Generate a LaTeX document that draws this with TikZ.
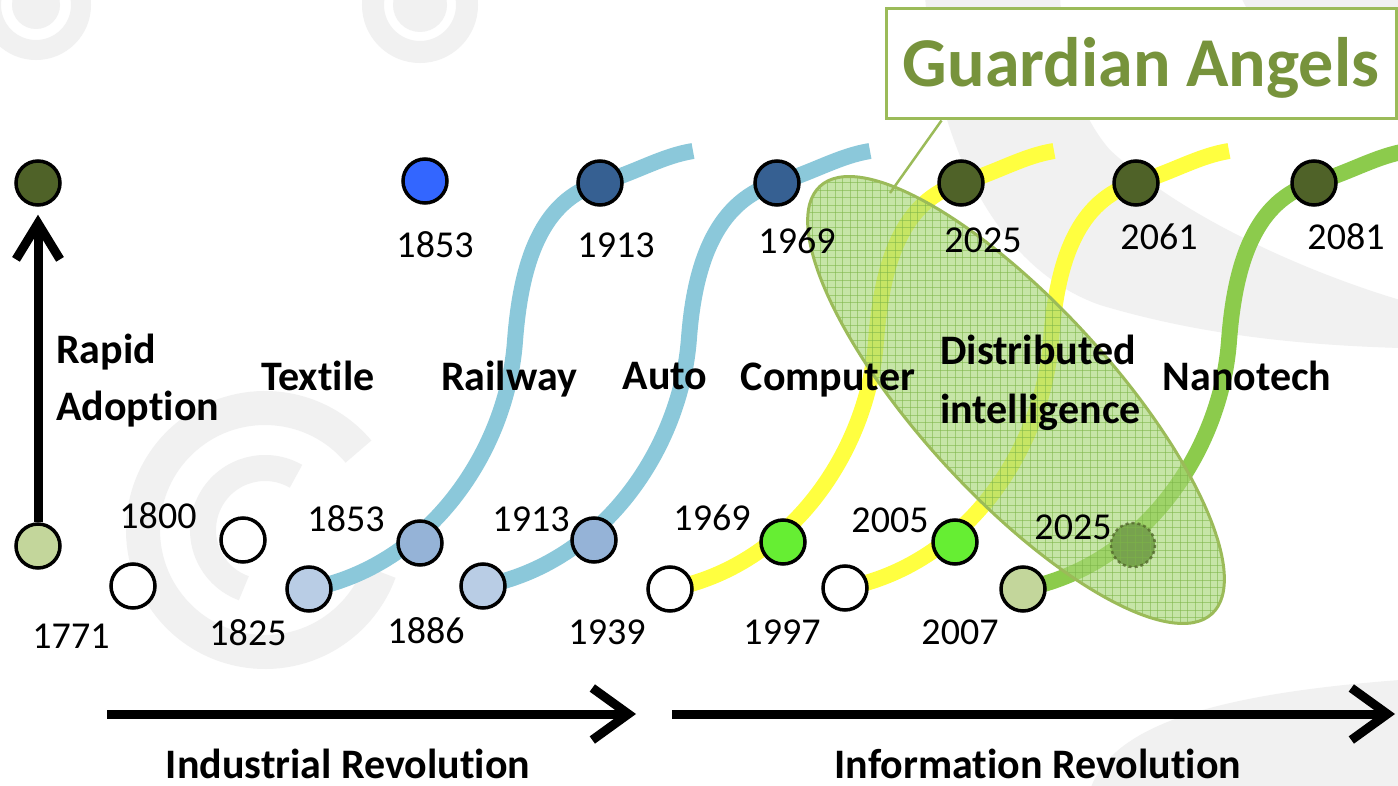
\documentclass[tikz,border=0pt]{standalone}
\usepackage{fontspec}
\setmainfont{Carlito}[RawFeature={-liga;-clig;-dlig;-calt}]
\usetikzlibrary{arrows.meta,calc}
\definecolor{olivedark}{HTML}{4F6228}
\definecolor{olivelight}{HTML}{C3D69B}
\definecolor{bluelight}{HTML}{B9CDE5}
\definecolor{bluemid}{HTML}{95B3D7}
\definecolor{bluebright}{HTML}{3366FF}
\definecolor{bluedark}{HTML}{366092}
\definecolor{greenbright}{HTML}{66EE33}
\definecolor{greendeep}{HTML}{1E4000}
\definecolor{bandblue}{HTML}{8BC8DA}
\definecolor{bandyellow}{HTML}{FFFF40}
\definecolor{bandgreen}{HTML}{8CCB4C}
\definecolor{angelgreen}{HTML}{77933C}
\definecolor{angelline}{HTML}{9BBB59}
\definecolor{cloudfill}{HTML}{A8D878}
\definecolor{cloudgrid}{HTML}{7DB548}
\definecolor{wmgray}{HTML}{F1F1F1}
\begin{document}
\begin{tikzpicture}[x=1pt,y=-1pt,
  yeardot/.style={circle,draw=black,line width=3.5pt,minimum size=44pt,inner sep=0pt},
  yearlbl/.style={font=\fontsize{38}{44}\selectfont,inner sep=0pt,anchor=base},
  techlbl/.style={font=\fontsize{42}{50}\selectfont\bfseries,inner sep=0pt,anchor=base},
  band/.style={line width=16pt},
  wm/.style={wmgray},
  timearrow/.style={line width=9pt,-{Straight Barb[length=36pt,width=52pt]}},
  callout/.style={draw=angelline,line width=2.5pt}]

\clip (0,0) rectangle (1398,786);
\fill[white] (0,0) rectangle (1398,786);

% faint watermark swirls in the background
\fill[wm] (36,5) circle[radius=24];
\draw[wm,line width=20pt] (36,5) circle[radius=45];
\fill[wm] (420,5) circle[radius=27];
\draw[wm,line width=22pt] (420,5) circle[radius=47];
\draw[wm,line width=34pt] ($(265,530)+(-40:122)$) arc[start angle=-40,end angle=-340,radius=122];
\draw[wm,line width=26pt] ($(265,530)+(-60:62)$) arc[start angle=-60,end angle=-250,radius=62];
\fill[wm] (925,-5) .. controls (935,150) and (1000,270) .. (1100,305)
  .. controls (1200,335) and (1300,345) .. (1400,348) -- (1400,300)
  .. controls (1300,270) and (1180,215) .. (1110,150)
  .. controls (1075,110) and (1062,50) .. (1060,-5) -- cycle;
\fill[wm] (1240,-5) .. controls (1270,60) and (1330,95) .. (1400,100) -- (1400,-5) -- cycle;
\fill[wm] (1090,790) .. controls (1110,730) and (1200,695) .. (1400,680) -- (1400,790) -- cycle;

% positions of the milestones
\coordinate (P-adopt) at (38,546);
\coordinate (P-top)   at (38,183);
\coordinate (P1771) at (133,586);
\coordinate (P1800) at (243,540);
\coordinate (P1825) at (309,589);
\coordinate (P1853) at (420,543);
\coordinate (P1886) at (483,586);
\coordinate (P1913) at (594,540);
\coordinate (P1939) at (670,589);
\coordinate (P1969) at (783,542);
\coordinate (P1997) at (845,588);
\coordinate (P2005) at (955,542);
\coordinate (P2007) at (1023,589);
\coordinate (P2025) at (1133,545);
\coordinate (T1853) at (425,181);
\coordinate (T1913) at (600,183);
\coordinate (T1969) at (777,183);
\coordinate (T2025) at (961,183);
\coordinate (T2061) at (1136,183);
\coordinate (T2081) at (1314,183);

% S-shaped adoption curves
\draw[band,bandblue] (P1825) .. controls +(120,-23) and +(-8,110) .. ++(206,-248)
  .. controls +(6,-80) and +(-58,17) .. (T1913)
  .. controls +(37,-11) and +(-31,5) .. ++(93,-32);
\draw[band,bandblue] (P1886) .. controls +(120,-23) and +(-8,110) .. ++(206,-248)
  .. controls +(6,-80) and +(-58,17) .. (T1969)
  .. controls +(37,-11) and +(-31,5) .. ++(93,-32);
\draw[band,bandyellow] (P1939) .. controls +(120,-23) and +(-8,110) .. ++(206,-248)
  .. controls +(6,-80) and +(-58,17) .. (T2025)
  .. controls +(37,-11) and +(-31,5) .. ++(93,-32);
\draw[band,bandyellow] (P1997) .. controls +(120,-23) and +(-8,110) .. ++(206,-248)
  .. controls +(6,-80) and +(-58,17) .. (T2061)
  .. controls +(37,-11) and +(-31,5) .. ++(93,-32);
\draw[band,bandgreen] (P2007) .. controls +(120,-23) and +(-8,110) .. ++(206,-248)
  .. controls +(6,-80) and +(-58,17) .. (T2081)
  .. controls +(37,-11) and +(-31,5) .. ++(93,-32);

\node[yeardot,fill=greendeep,draw=none] (c2025) at (P2025) {};

% the hatched "distributed intelligence" cloud
\begin{scope}
  \clip[rotate around={-47.5:(1016,400)}] (1016,400) ellipse[x radius=290,y radius=96];
  \fill[cloudfill,opacity=0.65] (790,160) rectangle (1240,640);
  \foreach \gx in {790,797.5,...,1240} \draw[cloudgrid,line width=0.8pt,opacity=0.55] (\gx,160) -- (\gx,640);
  \foreach \gy in {160,167.5,...,640} \draw[cloudgrid,line width=0.8pt,opacity=0.55] (790,\gy) -- (1240,\gy);
\end{scope}
\draw[angelline,line width=3pt,rotate around={-47.5:(1016,400)}] (1016,400) ellipse[x radius=290,y radius=96];
\draw[olivedark,line width=2.5pt,dashed,opacity=0.75] (c2025.center) circle[radius=22];

% milestone circles
\node[yeardot,fill=olivelight] (c-adopt) at (P-adopt) {};
\node[yeardot,fill=olivedark]  (c-top)   at (P-top) {};
\node[yeardot,fill=white]      (c1771) at (P1771) {};
\node[yeardot,fill=white]      (c1800) at (P1800) {};
\node[yeardot,fill=bluelight]  (c1825) at (P1825) {};
\node[yeardot,fill=bluemid]    (c1853) at (P1853) {};
\node[yeardot,fill=bluelight]  (c1886) at (P1886) {};
\node[yeardot,fill=bluemid]    (c1913) at (P1913) {};
\node[yeardot,fill=white]      (c1939) at (P1939) {};
\node[yeardot,fill=greenbright] (c1969) at (P1969) {};
\node[yeardot,fill=white]      (c1997) at (P1997) {};
\node[yeardot,fill=greenbright] (c2005) at (P2005) {};
\node[yeardot,fill=olivelight] (c2007) at (P2007) {};
\node[yeardot,fill=bluebright] (t1853) at (T1853) {};
\node[yeardot,fill=bluedark]   (t1913) at (T1913) {};
\node[yeardot,fill=bluedark]   (t1969) at (T1969) {};
\node[yeardot,fill=olivedark]  (t2025) at (T2025) {};
\node[yeardot,fill=olivedark]  (t2061) at (T2061) {};
\node[yeardot,fill=olivedark]  (t2081) at (T2081) {};

% callout box
\coordinate (gatail) at (890,193);
\node[draw=angelline,line width=3pt,fill=white,minimum width=510pt,minimum height=110pt,
      inner sep=0pt,text=angelgreen,text height=45pt,text depth=0pt,
      font=\fontsize{70}{80}\selectfont\bfseries] (ga) at (1141,64) {Guardian Angels};
\draw[callout] ($(ga.south west)+(57,0)$) -- (gatail);

% year labels
\node[yearlbl] (y1771) at (71,648) {1771};
\node[yearlbl] (y1800) at (158,528) {1800};
\node[yearlbl] (y1825) at (248,645) {1825};
\node[yearlbl] (y1853) at (346,531) {1853};
\node[yearlbl] (y1886) at (426,643) {1886};
\node[yearlbl] (y1913) at (531,531) {1913};
\node[yearlbl] (y1939) at (607,644) {1939};
\node[yearlbl] (y1969) at (712,530) {1969};
\node[yearlbl] (y1997) at (782,644) {1997};
\node[yearlbl] (y2005) at (890,532) {2005};
\node[yearlbl] (y2007) at (960,644) {2007};
\node[yearlbl] (y2025) at (1073,539) {2025};
\node[yearlbl] (z1853) at (435,258) {1853};
\node[yearlbl] (z1913) at (616,258) {1913};
\node[yearlbl] (z1969) at (797,254) {1969};
\node[yearlbl] (z2025) at (983,253) {2025};
\node[yearlbl] (z2061) at (1159,250) {2061};
\node[yearlbl] (z2081) at (1346,250) {2081};

% technology labels
\node[techlbl,anchor=base west] (l-rapid) at (56,363) {Rapid};
\node[techlbl,anchor=base west] (l-adopt) at (56,420) {Adoption};
\node[techlbl] (l-textile) at (318,390) {Textile};
\node[techlbl] (l-railway) at (509,390) {Railway};
\node[techlbl] (l-auto) at (665,389) {Auto};
\node[techlbl] (l-computer) at (828,390) {Computer};
\node[techlbl,anchor=base west] (l-dist) at (940,365) {Distributed};
\node[techlbl,anchor=base west] (l-intel) at (940,423) {intelligence};
\node[techlbl] (l-nano) at (1247,390) {Nanotech};
\node[techlbl] (l-ind) at (348,778) {Industrial Revolution};
\node[techlbl] (l-inf) at (1038,778) {Information Revolution};

% arrows
\draw[line width=9pt,-{Straight Barb[length=36pt,width=44pt]},shorten >=8pt] (c-adopt.north) -- (c-top.south);
\coordinate (ir-start) at (107,714);
\coordinate (ir-end) at (636,714);
\coordinate (inf-start) at (672,714);
\coordinate (inf-end) at (1395,714);
\draw[timearrow] (ir-start) -- (ir-end);
\draw[timearrow] (inf-start) -- (inf-end);
\end{tikzpicture}
\end{document}
